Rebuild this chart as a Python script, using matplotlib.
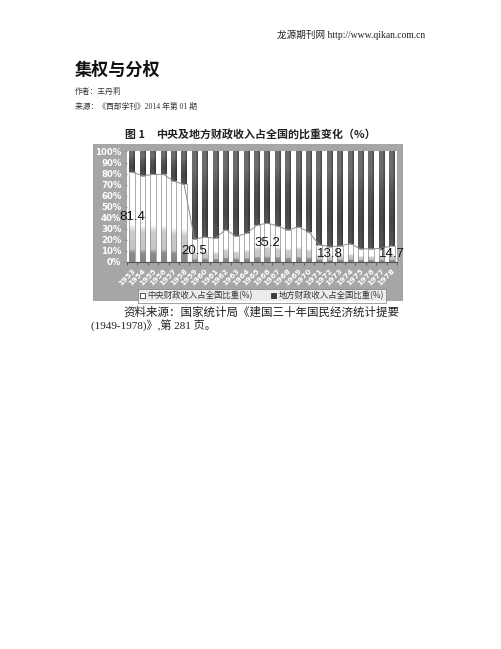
import numpy as np
import matplotlib
matplotlib.use("Agg")
import matplotlib.pyplot as plt
from matplotlib.patches import Rectangle, Patch

# ---------------- data ----------------
years = [str(y) for y in range(1953, 1979)]
central = [81.4, 78.0, 79.3, 79.3, 73.2, 70.2, 20.5, 22.7, 21.3, 29.4, 23.2, 25.8, 33.2,
           35.2, 32.5, 29.0, 31.8, 27.3, 15.8, 13.8, 14.5, 16.7, 11.8, 12.0, 12.3, 14.7]
local = [100 - v for v in central]
labelled_years = ["1953", "1959", "1966", "1972", "1978"]
y_ticks = list(range(0, 101, 10))
y_tick_labels = [f"{t}%" for t in y_ticks]
legend_labels = ["中央财政收入占全国比重(%)", "地方财政收入占全国比重(%)"]

CJK = "Noto Sans CJK SC"
W, H = 502, 649
fig = plt.figure(figsize=(W / 100, H / 100), dpi=100)
fig.patch.set_facecolor("white")


def fx(x):
    return x / W


def fy(y):
    return 1 - y / H


# ---------------- document text ----------------
fig.text(fx(277), fy(35), "龙源期刊网 http://www.qikan.com.cn", fontsize=6.9,
         family=["Liberation Serif", CJK], color="#222222", va="center", ha="left")
fig.text(fx(75), fy(70), "集权与分权", fontsize=12.3, family=[CJK], weight="bold",
         color="#111111", va="center", ha="left")
fig.text(fx(75), fy(92), "作者：王丹莉", fontsize=5.6, family=[CJK], color="#333333",
         va="center", ha="left")
fig.text(fx(75), fy(107), "来源：《西部学刊》2014 年第 01 期", fontsize=5.6,
         family=["Liberation Serif", CJK], color="#333333", va="center", ha="left")
fig.text(fx(125), fy(135), "图 1", fontsize=7.9, family=[CJK], weight="bold",
         color="#222222", va="center", ha="left")
fig.text(fx(156.5), fy(135), "中央及地方财政收入占全国的比重变化（%）", fontsize=7.9,
         family=[CJK], weight="bold", color="#222222", va="center", ha="left")
fig.text(fx(123), fy(313), "资料来源：国家统计局《建国三十年国民经济统计提要", fontsize=8.3,
         family=["Liberation Serif", CJK], color="#222222", va="center", ha="left")
fig.text(fx(91), fy(326), "(1949-1978)》,第 281 页。", fontsize=8.0,
         family=["Liberation Serif", CJK], color="#222222", va="center", ha="left")

# ---------------- chart background ----------------
fig.patches.append(Rectangle((fx(93), fy(301)), fx(310), 157 / H, transform=fig.transFigure,
                             facecolor="#a6a6a6", edgecolor="none", zorder=-5))

ax = fig.add_axes([fx(127), fy(262), fx(270), 110.5 / H])
ax.set_zorder(2)
ax.set_facecolor("white")
x = np.arange(len(years))
bw = 0.52

# base bars
b1 = ax.bar(x, central, width=bw, color="white", edgecolor="none", zorder=1)
b2 = ax.bar(x, local, bottom=central, width=bw, color="#4a4a4a", edgecolor="none", zorder=1)

# gradient fills (styling, placed on each bar's own rectangle)
t = np.linspace(0, 1, 120)
g_c = np.interp(t, [0, 0.10, 0.14, 0.34, 0.42, 1.0], [0.52, 0.55, 0.77, 0.80, 1.0, 1.0])
g_l = np.interp(t, [0, 0.25, 0.55, 0.8, 1.0], [0.33, 0.28, 0.33, 0.43, 0.42])
hcol = np.linspace(0, 1, 12)
hfac = np.where(hcol > 0.8, 0.72, 1.0)
for patch in b1:
    x0, y0 = patch.get_x(), patch.get_y()
    ax.imshow(g_c[:, None] * np.ones((1, 12)), extent=(x0, x0 + patch.get_width(), y0, y0 + patch.get_height()),
              origin="lower", cmap="gray", vmin=0, vmax=1, aspect="auto", zorder=1.5,
              interpolation="bilinear")
for patch in b2:
    x0, y0 = patch.get_x(), patch.get_y()
    ax.imshow(g_l[:, None] * hfac[None, :], extent=(x0, x0 + patch.get_width(), y0, y0 + patch.get_height()),
              origin="lower", cmap="gray", vmin=0, vmax=1, aspect="auto", zorder=1.5,
              interpolation="bilinear")

# outlines
ax.bar(x, central, width=bw, fill=False, edgecolor="#8a8a8a", linewidth=0.5, zorder=2)

# connecting line
ax.plot(x, central, color="#8c8c8c", linewidth=0.7, zorder=3)

# data labels
for i, yr in enumerate(years):
    if yr in labelled_years:
        ax.text(x[i], central[i] / 2, f"{central[i]}", ha="center", va="center",
                fontsize=9.5, family="Liberation Sans", color="#111111", zorder=4)

ax.set_xlim(-0.5, len(years) - 0.5)
ax.set_ylim(0, 100)
ax.set_yticks(y_ticks)
ax.set_yticklabels(y_tick_labels, fontsize=6.2, color="white", weight="bold",
                   family="DejaVu Sans")
ax.set_xticks(x)
ax.set_xticklabels(years, rotation=45, ha="right", va="top", fontsize=5.4, color="white",
                   weight="bold", family="DejaVu Sans", rotation_mode="anchor")
ax.set_xticks(np.arange(-0.5, len(years), 1.0), minor=True)
ax.tick_params(axis="x", which="major", length=0, pad=4)
ax.tick_params(axis="x", which="minor", length=2.5, color="#555555", width=0.6)
ax.tick_params(axis="y", length=2, color="#888888", width=0.5, pad=2)
for s in ["top", "right", "left"]:
    ax.spines[s].set_visible(False)
ax.spines["bottom"].set_color("#555555")
ax.spines["bottom"].set_linewidth(0.8)

# legend
handles = [Patch(facecolor="white", edgecolor="#333333", linewidth=0.6),
           Patch(facecolor="#3a3a3a", edgecolor="#333333", linewidth=0.6)]
leg = fig.legend(handles, legend_labels, loc="center", bbox_to_anchor=(fx(262), fy(296)),
                 ncol=2, frameon=True, fancybox=False, edgecolor="#777777",
                 handlelength=0.6, handleheight=0.6, handletextpad=0.25, columnspacing=2.2,
                 borderpad=0.25, prop={"family": CJK, "size": 6.0})
leg.get_frame().set_linewidth(0.6)
for txt in leg.get_texts():
    txt.set_color("#333333")

fig.savefig("out.png", dpi=100, facecolor="white")
